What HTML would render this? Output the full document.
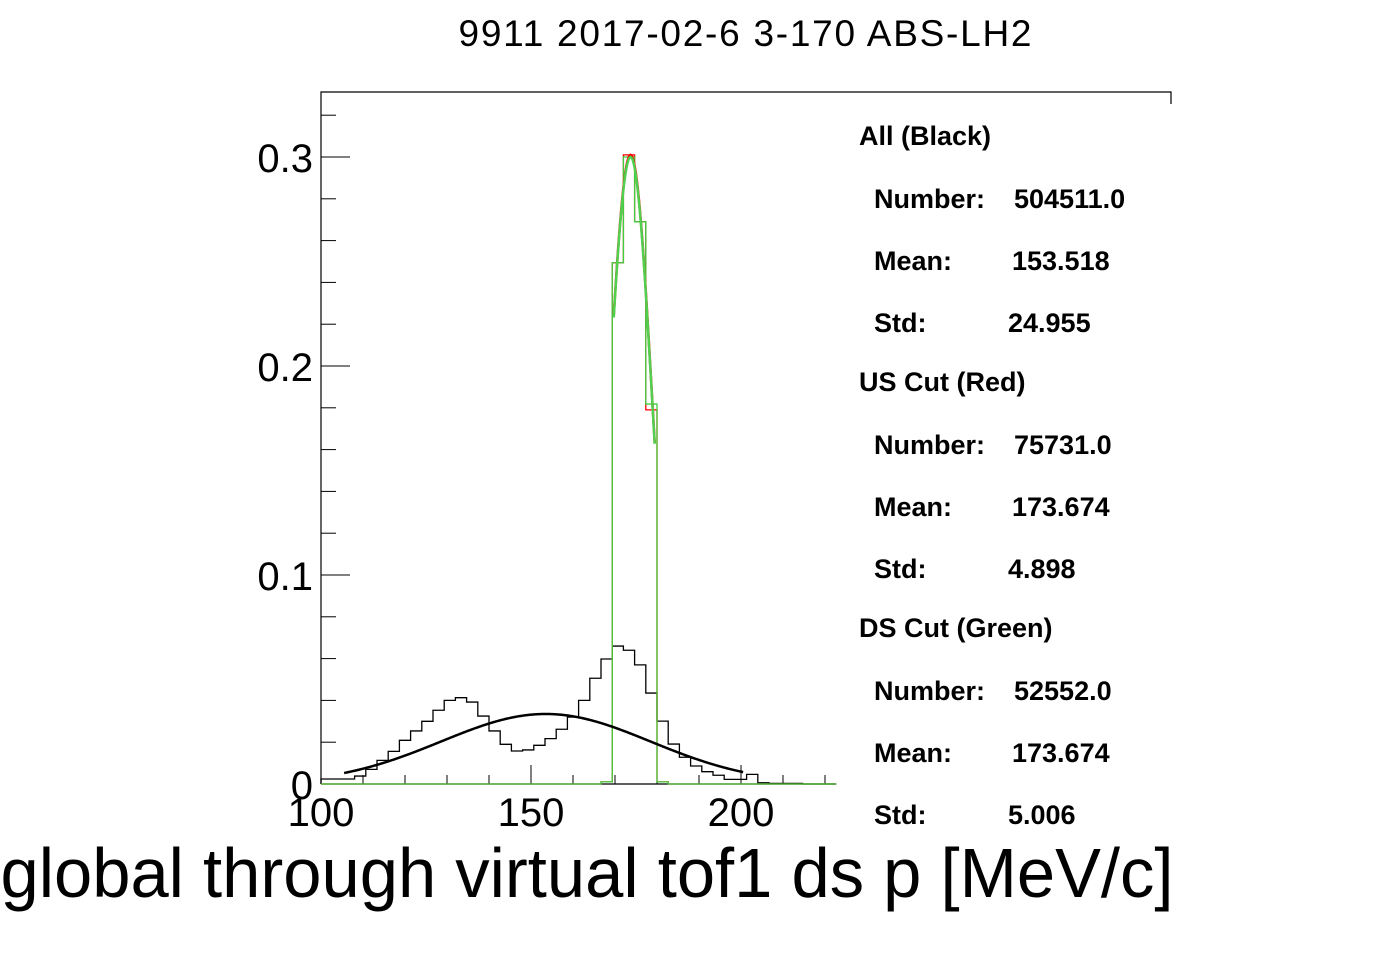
<!DOCTYPE html>
<html><head><meta charset="utf-8"><style>
html,body{margin:0;padding:0;background:#fff;}
svg{display:block;font-family:"Liberation Sans",Arial,sans-serif;}
.st{font-size:27px;font-weight:bold;}
</style></head><body>
<svg id="chart" width="1396" height="972" viewBox="0 0 1396 972">
<text x="745" y="46" font-size="37" text-anchor="middle" textLength="573">9911 2017-02-6 3-170 ABS-LH2</text>
<g id="axes"></g>
<g id="marks"></g>
<g>
<text class="st" x="859" y="145">All (Black)</text>
<text class="st" x="874" y="208">Number:</text>
<text class="st" x="1014" y="208">504511.0</text>
<text class="st" x="874" y="270">Mean:</text>
<text class="st" x="1012" y="270">153.518</text>
<text class="st" x="874" y="332">Std:</text>
<text class="st" x="1008" y="332">24.955</text>
<text class="st" x="859" y="391">US Cut (Red)</text>
<text class="st" x="874" y="454">Number:</text>
<text class="st" x="1014" y="454">75731.0</text>
<text class="st" x="874" y="516">Mean:</text>
<text class="st" x="1012" y="516">173.674</text>
<text class="st" x="874" y="578">Std:</text>
<text class="st" x="1008" y="578">4.898</text>
<text class="st" x="859" y="637">DS Cut (Green)</text>
<text class="st" x="874" y="700">Number:</text>
<text class="st" x="1014" y="700">52552.0</text>
<text class="st" x="874" y="762">Mean:</text>
<text class="st" x="1012" y="762">173.674</text>
<text class="st" x="874" y="824">Std:</text>
<text class="st" x="1008" y="824">5.006</text>
</g>
<text x="587" y="897" font-size="70" text-anchor="middle" textLength="1173" lengthAdjust="spacingAndGlyphs">global through virtual tof1 ds p [MeV/c]</text>
</svg>
<script>
const xMin = 100, binW = 2.6667;
const allCounts = [0.0024,0.0024,0.0024,0.0038,0.0070,0.0113,0.0156,0.0209,0.0254,0.0300,0.0353,0.0400,0.0413,0.0392,0.0325,0.0254,0.0190,0.0158,0.0163,0.0185,0.0217,0.0262,0.0320,0.0400,0.0506,0.0598,0.0660,0.0640,0.0570,0.0435,0.0301,0.0191,0.0128,0.0086,0.0059,0.0042,0.0022,0.0022,0.0046,0.0006,0.0003,0.0003,0.0003,0,0,0];
const usCounts = [0,0,0,0,0,0,0,0,0,0,0,0,0,0,0,0,0,0,0,0,0,0,0,0,0,0.001,0.2494,0.301,0.269,0.179,0.001,0,0,0,0,0,0,0,0,0,0,0,0,0,0,0];
const dsCounts = [0,0,0,0,0,0,0,0,0,0,0,0,0,0,0,0,0,0,0,0,0,0,0,0,0,0.001,0.2494,0.300,0.269,0.1818,0.001,0,0,0,0,0,0,0,0,0,0,0,0,0,0,0];
const allFit = {mean:153.518, sigma:24.955, amp:0.0335, from:105.5, to:200.5};
const usFit = {mean:173.7, sigma:5.2, amp:0.301, from:169.7, to:179.5};
const dsFit = {mean:173.7, sigma:5.2, amp:0.300, from:169.7, to:179.5};
const xTicks = [100,150,200];
const yTicks = [0,0.1,0.2,0.3];
const yTickLabels = ["0","0.1","0.2","0.3"];

const NS="http://www.w3.org/2000/svg";
const X = v => 321 + (v-100)*4.2;
const Y = v => 784 - v*2090;
const axes = document.getElementById('axes'), marks = document.getElementById('marks');
function mk(tag, attrs, parent){const e=document.createElementNS(NS,tag);for(const k in attrs)e.setAttribute(k,attrs[k]);parent.appendChild(e);return e;}

let frame = mk('path',{d:`M321,784 L321,92 L1171,92 L1171,104 M321,784 L836,784`,stroke:'#000','stroke-width':1.2,fill:'none'},axes);


for(let v=0; v<=0.33; v+=0.02){
  const major = Math.abs(v*10-Math.round(v*10))<1e-6;
  const t = mk('line',{x1:321,x2:major?350:336,y1:Y(v),y2:Y(v),stroke:'#000','stroke-width':1},axes);
  
  
}
for(let v=100; v<=222; v+=10){
  const major = v%50===0;
  const t = mk('line',{x1:X(v),x2:X(v),y1:784,y2:major?765:775,stroke:'#000','stroke-width':1},axes);
  
  
}
yTicks.forEach((v,i)=>{
  const t = mk('text',{x:313,y:Y(v)+15,'font-size':40,'text-anchor':'end'},axes);
  t.textContent = yTickLabels[i];
  
  
});
xTicks.forEach(v=>{
  const t = mk('text',{x:X(v),y:826,'font-size':40,'text-anchor':'middle'},axes);
  t.textContent = String(v);
  
  
});
function histPath(arr){
  let d=`M${X(xMin)},${Y(0)}`;
  arr.forEach((c,i)=>{const x0=X(xMin+i*binW), x1=X(xMin+(i+1)*binW); d+=` L${x0},${Y(c)} L${x1},${Y(c)}`;});
  d+=` L${X(xMin+arr.length*binW)},${Y(0)}`;
  return d;
}
function fitPath(f){
  let d='';
  for(let x=f.from;x<=f.to+1e-9;x+=0.25){const y=f.amp*Math.exp(-0.5*((x-f.mean)/f.sigma)**2); d+=(d?' L':'M')+X(x).toFixed(2)+','+Y(y).toFixed(2);}
  return d;
}
let h = mk('path',{d:histPath(allCounts),stroke:'#000','stroke-width':1.3,fill:'none'},marks);


h = mk('path',{d:histPath(usCounts),stroke:'#f00','stroke-width':1.3,fill:'none'},marks);


h = mk('path',{d:histPath(dsCounts),stroke:'#3ecf3e','stroke-width':1.3,fill:'none'},marks);


h = mk('path',{d:fitPath(allFit),stroke:'#000','stroke-width':2.5,fill:'none'},marks);


h = mk('path',{d:fitPath(usFit),stroke:'#f00','stroke-width':2.5,fill:'none'},marks);


h = mk('path',{d:fitPath(dsFit),stroke:'#4fd04f','stroke-width':2.5,fill:'none'},marks);


</script>
</body></html>
